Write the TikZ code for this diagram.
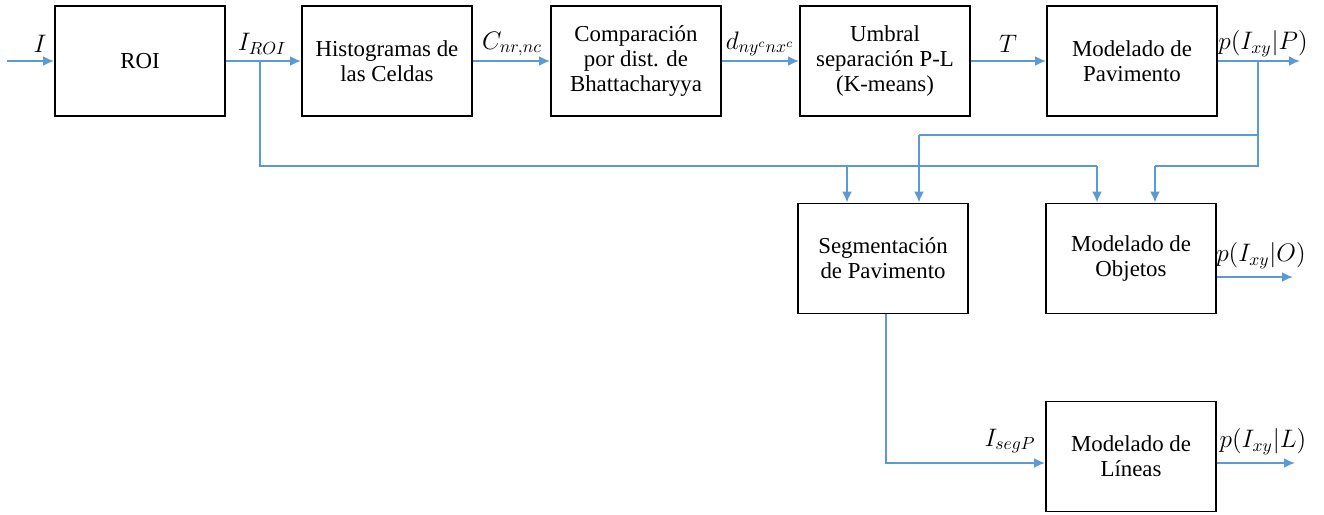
\documentclass[tikz,border=0pt]{standalone}
\usepackage{amsmath, tikz, xcolor}
\usepackage{fontspec}
\setmainfont{Liberation Serif}
\newfontfamily\blockfont{Liberation Serif}
\usetikzlibrary{arrows.meta, calc}
\definecolor{flowblue}{RGB}{91,155,213}

\begin{document}
\begin{tikzpicture}[x=0.2mm, y=-0.2mm,
    font=\blockfont\fontsize{13}{14.2}\selectfont,
    block/.style={draw, line width=1.1pt, minimum width=3.4cm, minimum height=2.2cm, align=center},
    lbl/.style={font=\fontsize{14}{16}\selectfont},
    line/.style={draw=flowblue, line width=1.1pt},
    flow/.style={line, -{Latex[length=2.2mm, width=2mm]}}]
    \useasboundingbox (0,0) rectangle (1324,514);
    % bloques
    \node [block] (roi) at (140,61) {ROI};
    \node [block] (hist) at (387,61) {Histogramas de\\las Celdas};
    \node [block] (comp) at (636,61) {Comparación\\por dist. de\\Bhattacharyya};
    \node [block] (umbral) at (885,61) {Umbral\\separación P-L\\(K-means)};
    \node [block] (modpav) at (1132,61) {Modelado de\\Pavimento};
    \node [block] (seg) at (883,258.5) {Segmentación\\de Pavimento};
    \node [block] (modobj) at (1131,258.5) {Modelado de\\Objetos};
    \node [block] (modlin) at (1131,456.5) {Modelado de\\Líneas};
    % etiquetas
    \node [lbl] (lI) at (40,44) {$I$};
    \node [lbl] (lroi) at (262,44) {$I_{ROI}$};
    \node [lbl] (lcnr) at (512,44) {$C_{nr,nc}$};
    \node [lbl] (ldist) at (760,44) {$d_{ny^{c}nx^{c}}$};
    \node [lbl] (lT) at (1008,44) {$T$};
    \node [lbl] (lpP) at (1263,44) {$p(I_{xy}|P)$};
    \node [lbl] (lpO) at (1261,256) {$p(I_{xy}|O)$};
    \node [lbl] (lseg) at (1010,441) {$I_{segP}$};
    \node [lbl] (lpL) at (1263,442) {$p(I_{xy}|L)$};
    % puntos libres y derivaciones
    \coordinate (in) at (7,61);
    \coordinate (outP) at (1300,61);
    \coordinate (outO) at (1293,277);
    \coordinate (outL) at (1295,463);
    \coordinate (r) at (260,61);
    \coordinate (p) at (1258,61);
    \coordinate (s1) at (847,166);
    \coordinate (o1) at (1097,166);
    \coordinate (s2) at (919,135);
    \coordinate (o2) at (1155,166);
    \coordinate (l1) at (886,463);
    % flechas
    \draw [flow] (in) -- (roi);
    \draw [flow] (roi) -- (hist);
    \draw [flow] (hist) -- (comp);
    \draw [flow] (comp) -- (umbral);
    \draw [flow] (umbral) -- (modpav);
    \draw [flow] (modpav) -- (outP);
    \draw [line] (r) |- (o1);
    \draw [flow] (o1) -- (o1 |- modobj.north);
    \draw [flow] (s1) -- (s1 |- seg.north);
    \draw [line] (p) |- (s2);
    \draw [flow] (s2) -- (s2 |- seg.north);
    \draw [line] (p) |- (o2);
    \draw [flow] (o2) -- (o2 |- modobj.north);
    \draw [flow] (outO -| modobj.east) -- (outO);
    \draw [flow] (l1 |- seg.south) -- (l1) -- (l1 -| modlin.west);
    \draw [flow] (outL -| modlin.east) -- (outL);
\end{tikzpicture}
\end{document}
